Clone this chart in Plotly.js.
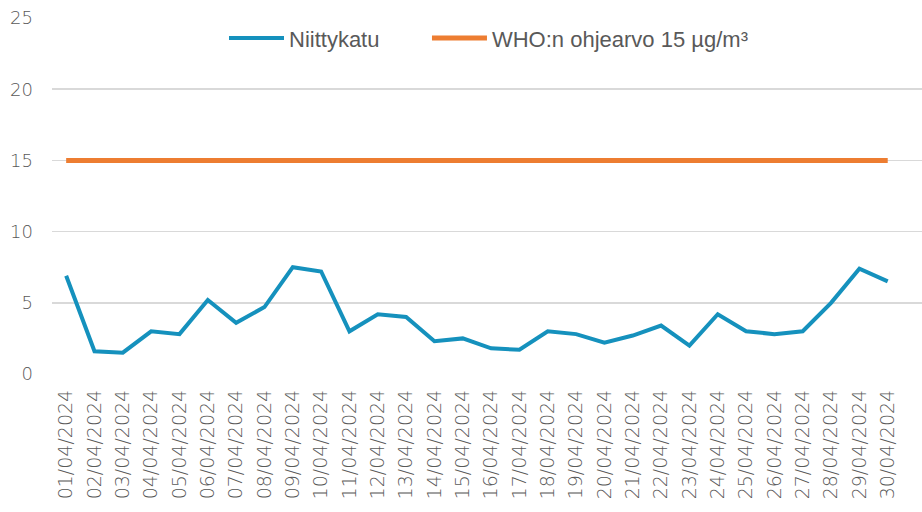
<!DOCTYPE html>
<html>
<head>
<meta charset="utf-8">
<script src="https://cdn.plot.ly/plotly-3.0.1.min.js"></script>
<style>html,body{margin:0;padding:0;background:#fff;}#chart{width:922px;height:512px;}</style>
</head>
<body>
<div id="chart"></div>
<script>
const dates = ["01/04/2024","02/04/2024","03/04/2024","04/04/2024","05/04/2024","06/04/2024","07/04/2024","08/04/2024","09/04/2024","10/04/2024","11/04/2024","12/04/2024","13/04/2024","14/04/2024","15/04/2024","16/04/2024","17/04/2024","18/04/2024","19/04/2024","20/04/2024","21/04/2024","22/04/2024","23/04/2024","24/04/2024","25/04/2024","26/04/2024","27/04/2024","28/04/2024","29/04/2024","30/04/2024"];
const niittykatu = [6.9,1.6,1.5,3.0,2.8,5.2,3.6,4.7,7.5,7.2,3.0,4.2,4.0,2.3,2.5,1.8,1.7,3.0,2.8,2.2,2.7,3.4,2.0,4.2,3.0,2.8,3.0,5.0,7.4,6.5];
const who = [15,15,15,15,15,15,15,15,15,15,15,15,15,15,15,15,15,15,15,15,15,15,15,15,15,15,15,15,15,15];
const yTicks = [0,5,10,15,20,25];

const legendFont = {family: 'Liberation Sans, Arial, sans-serif', size: 22, color: '#595959'};
const tickFont = {family: 'DejaVu Sans, sans-serif', size: 19, color: '#595959', weight: 300};

const traces = [
  {x: dates, y: niittykatu, type: 'scatter', mode: 'lines', name: 'Niittykatu', legend: 'legend',
   line: {color: '#1591BD', width: 4, shape: 'linear'}},
  {x: dates, y: who, type: 'scatter', mode: 'lines', name: 'WHO:n ohjearvo 15 µg/m³', legend: 'legend2',
   line: {color: '#ED7D31', width: 5}}
];

const layout = {
  width: 922, height: 512,
  margin: {l: 52, r: 0, t: 18, b: 138},
  paper_bgcolor: '#ffffff', plot_bgcolor: '#ffffff',
  showlegend: true,
  legend: {orientation: 'h', x: 0.1977, xanchor: 'left', y: 0.943, yanchor: 'middle',
           font: legendFont, itemwidth: 55, bgcolor: 'rgba(0,0,0,0)'},
  legend2: {orientation: 'h', x: 0.431, xanchor: 'left', y: 0.943, yanchor: 'middle',
           font: legendFont, itemwidth: 55, bgcolor: 'rgba(0,0,0,0)'},
  xaxis: {type: 'category', range: [-0.5, 30.21], tickangle: -90,
          tickfont: tickFont,
          showgrid: false, zeroline: false, showline: false, ticks: '', ticklen: 0,
          ticklabelstandoff: 11},
  yaxis: {range: [0, 25], tickvals: yTicks, ticktext: yTicks.map(String),
          tickfont: {family: 'DejaVu Sans, sans-serif', size: 18, color: '#595959', weight: 300},
          showgrid: true, gridcolor: '#d9d9d9', gridwidth: 1.5, zeroline: false, showline: false,
          ticks: '', ticklabelstandoff: 18}
};

Plotly.newPlot('chart', traces, layout, {staticPlot: true, displayModeBar: false});
</script>
</body>
</html>
